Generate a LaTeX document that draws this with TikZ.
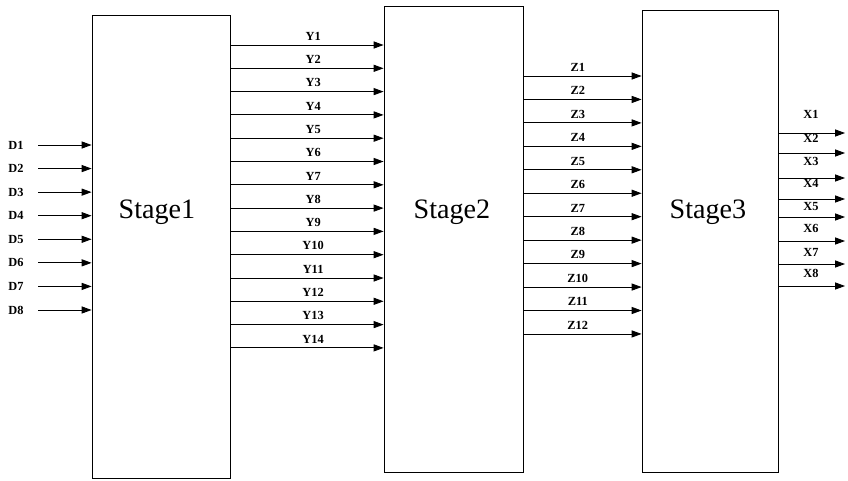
\documentclass[tikz,border=0pt]{standalone}
\usepackage{fontspec}
\setmainfont{Liberation Serif}
\usetikzlibrary{positioning,arrows.meta,calc}

\begin{document}
\begin{tikzpicture}[
  x=0.025cm, y=-0.025cm,
  line width=0.6pt,
  stage/.style={draw, inner sep=0pt},
  stxt/.style={font=\fontsize{20}{24}\selectfont},
  lab/.style={font=\bfseries\fontsize{8.8}{10}\selectfont, inner sep=1pt},
  arr/.style={-{Triangle[length=7pt,width=5pt]}},
]
\useasboundingbox (0,0) rectangle (848,480);
% the three blocks
\node[stage, minimum width=3.45cm, minimum height=11.575cm] (s1) at (161,246.5) {};
\node[stage, minimum width=3.475cm, minimum height=11.65cm] (s2) at (453.5,239) {};
\node[stage, minimum width=3.4cm, minimum height=11.55cm] (s3) at (710,241) {};
\node[stxt] (t1) at (157,212) {Stage1};
\node[stxt] (t2) at (452,212) {Stage2};
\node[stxt] (t3) at (708,212) {Stage3};
% inputs
\foreach \i in {1,...,8} {
  \node[lab] (d\i) at (16,{145+23.57*(\i-1)}) {D\i};
  \coordinate (din\i) at (38,{145+23.57*(\i-1)});
  \draw[arr] (din\i) -- (din\i -| s1.west);
}
% stage1 -> stage2
\foreach \i in {1,...,14} {
  \coordinate (ya\i) at (300,{45+23.3*(\i-1)});
  \draw[arr] (ya\i -| s1.east) -- (ya\i -| s2.west)
    node[lab, pos=.54, above=2pt] (yl\i) {Y\i};
}
% stage2 -> stage3
\foreach \i in {1,...,12} {
  \coordinate (za\i) at (580,{76+23.45*(\i-1)});
  \draw[arr] (za\i -| s2.east) -- (za\i -| s3.west)
    node[lab, pos=.46, above=2pt] (zl\i) {Z\i};
}
% outputs
\foreach \i/\ya/\yl in {1/133/114, 2/153/138, 3/178/161, 4/199/183,
                        5/217/207, 6/241/228, 7/264/252, 8/286/273} {
  \coordinate (xo\i) at (845,\ya);
  \draw[arr] (xo\i -| s3.east) -- (xo\i);
  \node[lab] (xl\i) at (811,\yl) {X\i};
}
\end{tikzpicture}
\end{document}
